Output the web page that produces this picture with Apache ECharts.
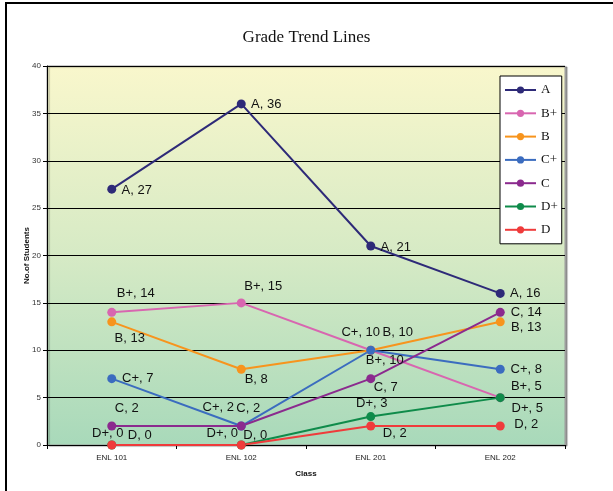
<!DOCTYPE html>
<html>
<head>
<meta charset="utf-8">
<script src="https://cdn.jsdelivr.net/npm/echarts@6/dist/echarts.min.js"></script>
<style>
  html, body { margin: 0; padding: 0; background: #fff; }
  #chart { width: 613px; height: 491px; }
</style>
</head>
<body>
<div id="chart"></div>
<script>
// Course sections along the x axis
const classes = ['ENL 101', 'ENL 102', 'ENL 201', 'ENL 202'];

// Number of students per grade in each class
const gradeA      = [27, 36, 21, 16];
const gradeBPlus  = [14, 15, 10, 5];
const gradeB      = [13, 8, 10, 13];
const gradeCPlus  = [7, 2, 10, 8];
const gradeC      = [2, 2, 7, 14];
const gradeDPlus  = [0, 0, 3, 5];
const gradeD      = [0, 0, 2, 2];

// Y axis scale
const yMin = 0, yMax = 40, yStep = 5;

// Series definitions: name, values, colour, and per-point label nudges [dx, dy]
const seriesDefs = [
  { name: 'A',  values: gradeA,     color: '#2e2a78',
    nudges: [[25, 1], [25, 1], [25, 1], [25, 0]] },
  { name: 'B+', values: gradeBPlus, color: '#d866b0',
    nudges: [[24, -19], [22, -16], [14, 10], [26, -11]] },
  { name: 'B',  values: gradeB,     color: '#f7941d',
    nudges: [[18, 17], [15, 10], [27, -18], [26, 6]] },
  { name: 'C+', values: gradeCPlus, color: '#3b6cbf',
    nudges: [[26, 0], [-23, -19], [-10, -18], [26, 0]] },
  { name: 'C',  values: gradeC,     color: '#8b2a8e',
    nudges: [[15, -18], [7, -18], [15, 9], [26, 0]] },
  { name: 'D+', values: gradeDPlus, color: '#0f8b4a',
    nudges: [[-4, -12], [-19, -12], [1, -13], [27, 11]] },
  { name: 'D',  values: gradeD,     color: '#ef3b3b',
    nudges: [[28, -10], [14, -10], [24, 7], [26, -2]] }
];

const labelFont = 'Liberation Sans, Arial, sans-serif';

const series = seriesDefs.map(def => ({
  name: def.name,
  type: 'line',
  symbol: 'circle',
  symbolSize: 9,
  z: 3,
  lineStyle: { color: def.color, width: 2 },
  itemStyle: { color: def.color },
  data: def.values.map((v, i) => ({
    value: v,
    label: {
      show: true,
      position: 'inside',
      align: 'center',
      verticalAlign: 'middle',
      offset: def.nudges[i],
      formatter: def.name + ', ' + v,
      color: '#111',
      fontSize: 13,
      fontFamily: labelFont
    }
  })),
  emphasis: { disabled: true },
  animation: false
}));

const chart = echarts.init(document.getElementById('chart'), null, { renderer: 'canvas' });

chart.setOption({
  animation: false,
  backgroundColor: '#ffffff',
  title: {
    text: 'Grade Trend Lines',
    left: 'center',
    top: 24,
    textStyle: {
      fontFamily: 'Liberation Serif, Times New Roman, serif',
      fontWeight: 'normal',
      fontSize: 17,
      color: '#111'
    }
  },
  graphic: [
    // frame around the chart (left and top edges visible)
    {
      type: 'rect',
      shape: { x: 6, y: 3, width: 640, height: 520 },
      style: { fill: null, stroke: '#000', lineWidth: 2 },
      silent: true
    }
  ],
  legend: {
    orient: 'vertical',
    left: 500,
    top: 76,
    itemWidth: 31,
    itemHeight: 9,
    itemGap: 9.3,
    padding: [7, 4, 7, 4],
    backgroundColor: '#ffffff',
    borderColor: '#000',
    borderWidth: 1,
    textStyle: {
      fontFamily: 'Liberation Serif, Times New Roman, serif',
      fontSize: 13,
      color: '#111',
      lineHeight: 14
    },
    data: seriesDefs.map(d => d.name)
  },
  grid: {
    left: 47,
    right: 48,
    top: 66,
    bottom: 46,
    show: true,
    borderColor: '#9a9a9a',
    borderWidth: 1,
    backgroundColor: {
      type: 'linear', x: 0, y: 0, x2: 0, y2: 1,
      colorStops: [
        { offset: 0, color: '#f9f7cc' },
        { offset: 0.5, color: '#d6eac5' },
        { offset: 1, color: '#a8d9ba' }
      ]
    },
    shadowColor: 'rgba(0,0,0,0.35)',
    shadowOffsetX: 2,
    shadowOffsetY: 1,
    shadowBlur: 1
  },
  xAxis: {
    type: 'category',
    data: classes,
    boundaryGap: true,
    name: 'Class',
    nameLocation: 'middle',
    nameGap: 25,
    nameMoveOverlap: false,
    nameTextStyle: {
      fontFamily: labelFont,
      fontWeight: 'bold',
      fontSize: 8,
      color: '#111'
    },
    axisLine: { lineStyle: { color: '#000', width: 1 } },
    axisTick: { show: true, length: 4, lineStyle: { color: '#000' } },
    axisLabel: {
      fontFamily: labelFont,
      fontSize: 8,
      color: '#222',
      margin: 9
    },
    splitLine: { show: false }
  },
  yAxis: {
    type: 'value',
    min: yMin,
    max: yMax,
    interval: yStep,
    name: 'No.of Students',
    nameLocation: 'middle',
    nameGap: 16,
    nameMoveOverlap: false,
    nameRotate: 90,
    nameTextStyle: {
      fontFamily: labelFont,
      fontWeight: 'bold',
      fontSize: 8,
      color: '#111'
    },
    axisLine: { show: true, lineStyle: { color: '#000', width: 1 } },
    axisTick: { show: true, length: 4, lineStyle: { color: '#000' } },
    axisLabel: {
      fontFamily: labelFont,
      fontSize: 8,
      color: '#333',
      margin: 6
    },
    splitLine: { show: true, lineStyle: { color: '#000', width: 1 } }
  },
  series: series
});
</script>
</body>
</html>
